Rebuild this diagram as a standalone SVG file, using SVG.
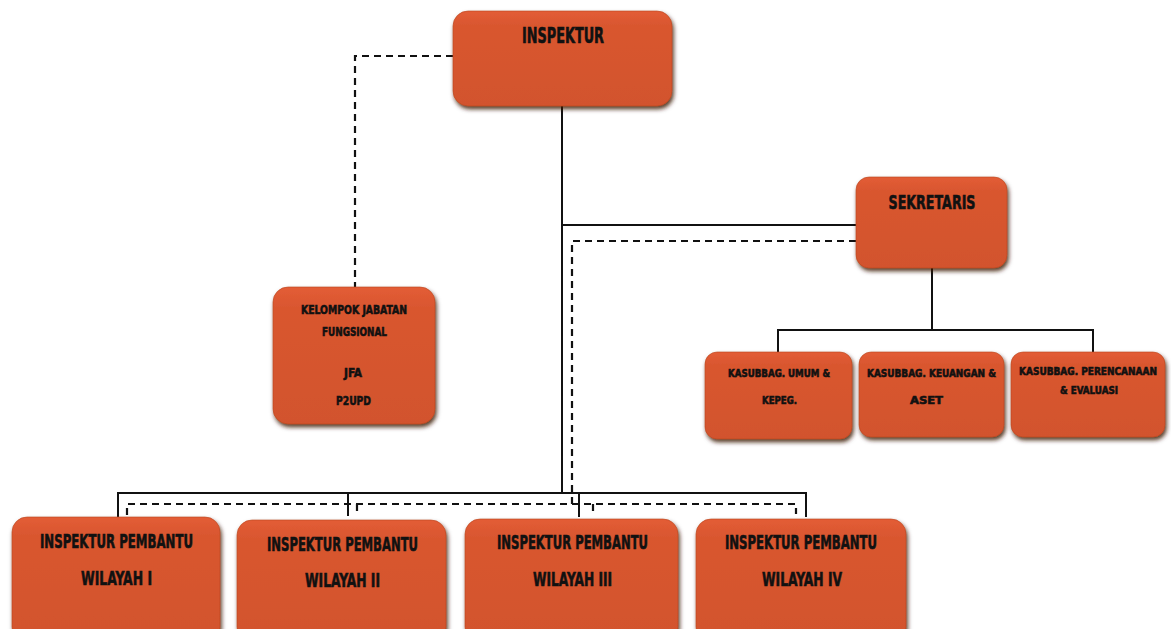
<svg xmlns="http://www.w3.org/2000/svg" width="1171" height="629" viewBox="0 0 1171 629">
<defs>
<linearGradient id="g" x1="0" y1="0" x2="0" y2="1">
<stop offset="0" stop-color="#E35C36"/>
<stop offset="0.15" stop-color="#D9572F"/>
<stop offset="1" stop-color="#D2532D"/>
</linearGradient>
<filter id="sh" x="-10%" y="-10%" width="125%" height="130%">
<feDropShadow dx="1.5" dy="3" stdDeviation="2" flood-color="#3a1205" flood-opacity="0.85"/>
</filter>
</defs>
<style>
.box{fill:url(#g);filter:url(#sh);stroke:#B8461F;stroke-width:0.6}
.t{font-family:"DejaVu Sans Condensed","DejaVu Sans",sans-serif;font-stretch:condensed;font-weight:bold;fill:#111;stroke:#111;stroke-width:0.6;text-anchor:middle}
.s{fill:none;stroke:#111;stroke-width:2}
.d{fill:none;stroke:#111;stroke-width:2.2;stroke-dasharray:7 5}
</style>
<rect width="1171" height="629" fill="#fff"/>
<g id="connectors">
<path class="s" d="M562 106V493M562 225H856"/>
<path class="d" d="M453 56H355V287"/>
<path class="d" d="M856 241H572V505"/>
<path class="s" d="M932 268V330M778 352V330H1093V352"/>
<path class="s" d="M118 517V493H806V517M348 493V516M579 493V517"/>
<path class="d" d="M127 515V504H796V514M357 504V514M593 504V514"/>
</g>
<g id="inspektur">
<rect class="box" x="453" y="11" width="219" height="95" rx="15"/>
<text class="t" x="563" y="43" font-size="21" textLength="82" lengthAdjust="spacingAndGlyphs">INSPEKTUR</text>
</g>
<g id="sekretaris">
<rect class="box" x="856" y="177" width="151" height="91" rx="13"/>
<text class="t" x="932" y="209" font-size="20" textLength="87" lengthAdjust="spacingAndGlyphs">SEKRETARIS</text>
</g>
<g id="kelompok">
<rect class="box" x="273" y="287" width="162" height="137" rx="15"/>
<text class="t" x="354" y="314" font-size="13" textLength="106" lengthAdjust="spacingAndGlyphs">KELOMPOK JABATAN</text>
<text class="t" x="354.5" y="336" font-size="13" textLength="65" lengthAdjust="spacingAndGlyphs">FUNGSIONAL</text>
<text class="t" x="353" y="377" font-size="13" textLength="18" lengthAdjust="spacingAndGlyphs">JFA</text>
<text class="t" x="353.5" y="405" font-size="13" textLength="35" lengthAdjust="spacingAndGlyphs">P2UPD</text>
</g>
<g id="kasubbag-umum">
<rect class="box" x="705" y="352" width="147" height="87" rx="12"/>
<text class="t" x="779" y="377" font-size="11" textLength="102" lengthAdjust="spacingAndGlyphs">KASUBBAG. UMUM &amp;</text>
<text class="t" x="779.5" y="404" font-size="11" textLength="35" lengthAdjust="spacingAndGlyphs">KEPEG.</text>
</g>
<g id="kasubbag-keuangan">
<rect class="box" x="859" y="352" width="145" height="85" rx="12"/>
<text class="t" x="931.5" y="377" font-size="11" textLength="129" lengthAdjust="spacingAndGlyphs">KASUBBAG. KEUANGAN &amp;</text>
<text class="t" x="926.5" y="404" font-size="11" textLength="33" lengthAdjust="spacingAndGlyphs">ASET</text>
</g>
<g id="kasubbag-perencanaan">
<rect class="box" x="1011" y="352" width="154" height="85" rx="12"/>
<text class="t" x="1088" y="375" font-size="11" textLength="138" lengthAdjust="spacingAndGlyphs">KASUBBAG. PERENCANAAN</text>
<text class="t" x="1089" y="394" font-size="11" textLength="58" lengthAdjust="spacingAndGlyphs">&amp; EVALUASI</text>
</g>
<g id="wilayah1">
<rect class="box" x="12" y="517" width="208" height="125" rx="15"/>
<text class="t" x="116.5" y="548" font-size="19" textLength="153" lengthAdjust="spacingAndGlyphs">INSPEKTUR PEMBANTU</text>
<text class="t" x="116.5" y="585" font-size="19" textLength="71" lengthAdjust="spacingAndGlyphs">WILAYAH I</text>
</g>
<g id="wilayah2">
<rect class="box" x="237" y="520" width="209" height="122" rx="15"/>
<text class="t" x="342.5" y="551" font-size="19" textLength="151" lengthAdjust="spacingAndGlyphs">INSPEKTUR PEMBANTU</text>
<text class="t" x="342.5" y="587" font-size="19" textLength="75" lengthAdjust="spacingAndGlyphs">WILAYAH II</text>
</g>
<g id="wilayah3">
<rect class="box" x="465" y="519" width="213" height="123" rx="15"/>
<text class="t" x="572.5" y="549" font-size="19" textLength="151" lengthAdjust="spacingAndGlyphs">INSPEKTUR PEMBANTU</text>
<text class="t" x="572.5" y="586" font-size="19" textLength="79" lengthAdjust="spacingAndGlyphs">WILAYAH III</text>
</g>
<g id="wilayah4">
<rect class="box" x="696" y="519" width="210" height="123" rx="15"/>
<text class="t" x="801" y="549" font-size="19" textLength="152" lengthAdjust="spacingAndGlyphs">INSPEKTUR PEMBANTU</text>
<text class="t" x="802" y="586" font-size="19" textLength="80" lengthAdjust="spacingAndGlyphs">WILAYAH IV</text>
</g>
</svg>
